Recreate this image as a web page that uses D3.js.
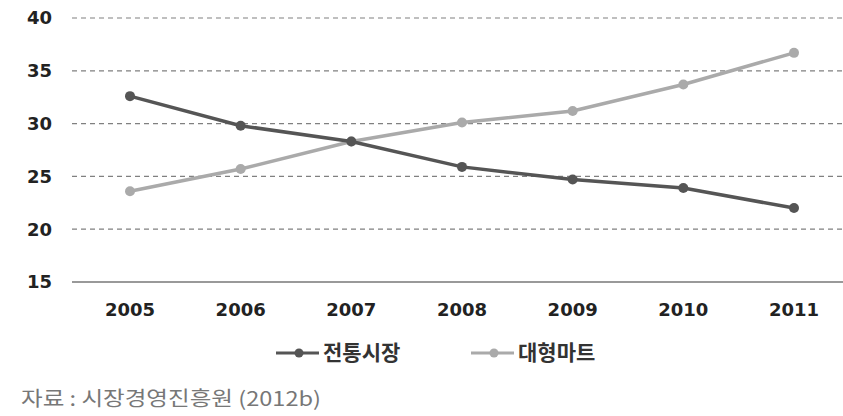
<!DOCTYPE html>
<html>
<head>
<meta charset="utf-8">
<script src="https://cdn.jsdelivr.net/npm/d3@7"></script>
<style>
  body { margin: 0; background: #fff; }
  svg { display: block; }
</style>
</head>
<body>
<div id="chart"></div>
<script>
const years = ["2005", "2006", "2007", "2008", "2009", "2010", "2011"];
const traditional = [32.6, 29.8, 28.3, 25.9, 24.7, 23.9, 22.0];
const hypermarket = [23.6, 25.7, 28.3, 30.1, 31.2, 33.7, 36.7];
const yTicks = [15, 20, 25, 30, 35, 40];
const seriesNames = ["전통시장", "대형마트"];
const sourceText = "자료 : 시장경영진흥원 (2012b)";

const width = 843, height = 416;
const margin = { top: 18, right: 0, bottom: 134, left: 72 };

const svg = d3.select("#chart").append("svg")
  .attr("width", width)
  .attr("height", height);

const x = d3.scalePoint()
  .domain(years)
  .range([130, 794]);

const y = d3.scaleLinear()
  .domain([15, 40])
  .range([height - margin.bottom, margin.top]);

// grid lines
svg.append("g")
  .selectAll("line")
  .data(yTicks.filter(d => d > 15))
  .join("line")
  .attr("x1", margin.left)
  .attr("x2", width)
  .attr("y1", d => y(d))
  .attr("y2", d => y(d))
  .attr("stroke", "#808080")
  .attr("stroke-width", 1.2)
  .attr("stroke-dasharray", "5,4");

// baseline
svg.append("line")
  .attr("x1", margin.left)
  .attr("x2", width)
  .attr("y1", y(15))
  .attr("y2", y(15))
  .attr("stroke", "#999")
  .attr("stroke-width", 2);

// y labels
svg.append("g")
  .selectAll("text")
  .data(yTicks)
  .join("text")
  .attr("x", 52)
  .attr("y", d => y(d))
  .attr("dy", "0.35em")
  .attr("text-anchor", "end")
  .attr("font-family", "DejaVu Sans, sans-serif")
  .attr("font-weight", "bold")
  .attr("font-size", 18)
  .attr("fill", "#222")
  .text(d => d);

// x labels
svg.append("g")
  .selectAll("text")
  .data(years)
  .join("text")
  .attr("x", d => x(d))
  .attr("y", 310)
  .attr("dy", "0.35em")
  .attr("text-anchor", "middle")
  .attr("font-family", "DejaVu Sans, sans-serif")
  .attr("font-weight", "bold")
  .attr("font-size", 18)
  .attr("fill", "#222")
  .text(d => d);

const series = [
  { name: seriesNames[0], values: traditional, color: "#555" },
  { name: seriesNames[1], values: hypermarket, color: "#aaa" }
];

const line = d3.line()
  .x((d, i) => x(years[i]))
  .y(d => y(d));

// light series first so the dark one sits on top
[series[1], series[0]].forEach(s => {
  svg.append("path")
    .datum(s.values)
    .attr("d", line)
    .attr("fill", "none")
    .attr("stroke", s.color)
    .attr("stroke-width", 3.5);

  svg.append("g")
    .selectAll("circle")
    .data(s.values)
    .join("circle")
    .attr("cx", (d, i) => x(years[i]))
    .attr("cy", d => y(d))
    .attr("r", 5)
    .attr("fill", s.color);
});

// legend
const legendPos = [276, 471];
series.forEach((s, i) => {
  const g = svg.append("g").attr("transform", `translate(${legendPos[i]},353)`);
  g.append("line")
    .attr("x1", 0).attr("x2", 43)
    .attr("stroke", s.color)
    .attr("stroke-width", 3);
  g.append("circle")
    .attr("cx", 23).attr("r", 4.5)
    .attr("fill", s.color);
  g.append("text")
    .attr("x", 47)
    .attr("dy", "0.35em")
    .attr("font-family", "Noto Sans CJK KR, sans-serif")
    .attr("font-weight", "bold")
    .attr("font-size", 21)
    .attr("fill", "#333")
    .text(s.name);
});

// source
svg.append("text")
  .attr("x", 21)
  .attr("y", 399)
  .attr("dy", "0.35em")
  .attr("font-family", "Noto Sans CJK KR, sans-serif")
  .attr("font-size", 20)
  .attr("fill", "#777")
  .attr("textLength", 300)
  .attr("lengthAdjust", "spacingAndGlyphs")
  .text(sourceText);
</script>
</body>
</html>
